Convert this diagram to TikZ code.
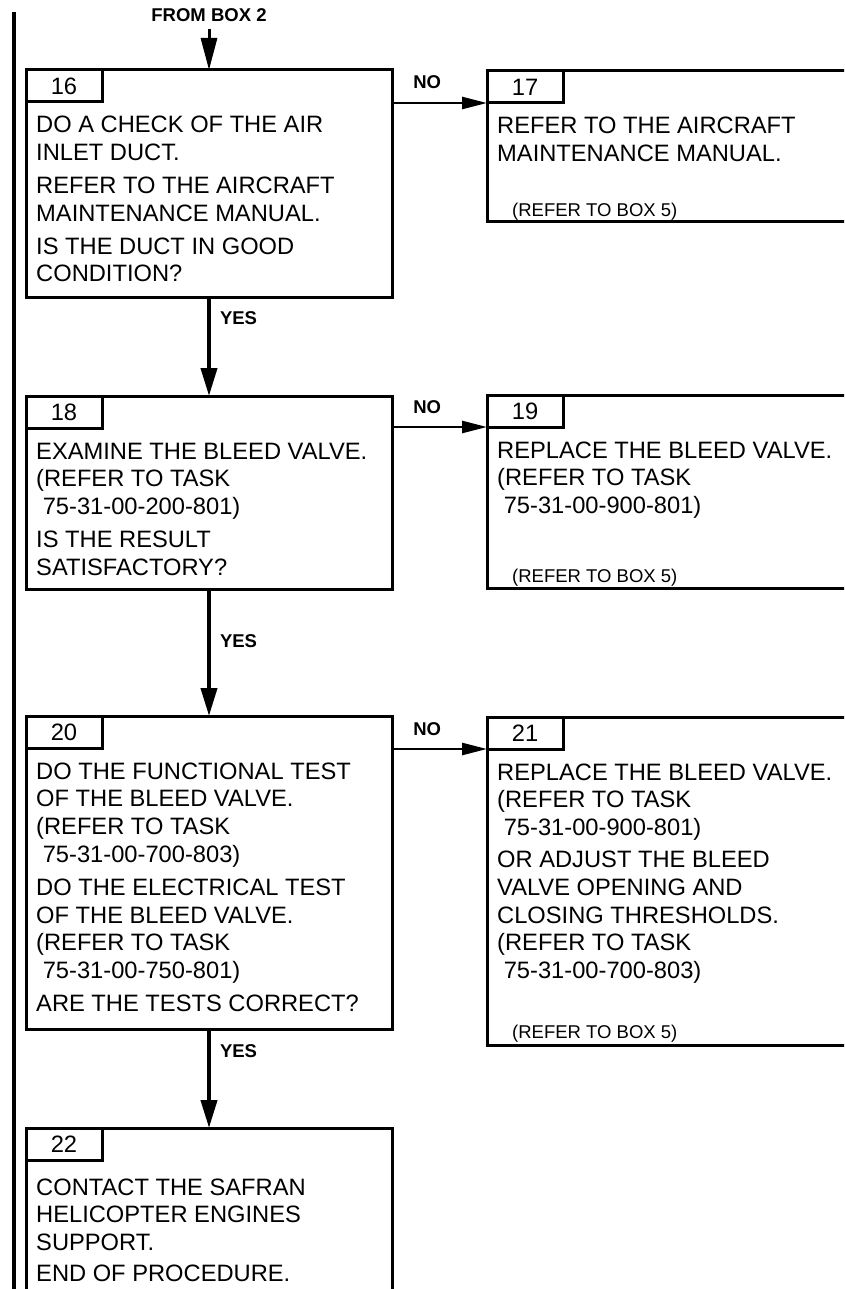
\documentclass[tikz,border=0pt]{standalone}
\usepackage{fontspec}
\setmainfont{Liberation Sans}
\usetikzlibrary{arrows.meta,positioning}
\newcommand\boxfont{\fontsize{23.7}{27.8}\selectfont}
\newcommand\notefont{\fontsize{18.5}{22}\selectfont}
\newcommand\lblfont{\fontsize{18.5}{22}\selectfont\bfseries}
\newcommand\boxtxt[1]{\parbox[t]{360pt}{\raggedright #1}}
\tikzset{
  stepbox/.style={draw, line width=3pt, rectangle, anchor=north west,
    inner sep=0pt, outer sep=0pt, minimum width=366pt},
  sidebox/.style={stepbox, minimum width=420pt},
  numtab/.style={draw, line width=3pt, rectangle, anchor=north west,
    inner sep=0pt, outer sep=0pt, minimum width=76pt, minimum height=32pt,
    font=\boxfont},
  boxtext/.style={anchor=base west, inner sep=0pt, font=\boxfont},
  refnote/.style={anchor=base west, inner sep=0pt, font=\notefont},
  lbl/.style={font=\lblfont, inner sep=0pt},
  yesarr/.style={-{Triangle[length=28pt,width=16pt]}, line width=4pt},
  noarr/.style={-{Triangle[length=25pt,width=12pt]}, line width=2.6pt}
}

\begin{document}
\begin{tikzpicture}[x=1pt,y=-1pt]
  \useasboundingbox (0,0) rectangle (844,1289);
  \clip (0,0) rectangle (844,1289);

  % change bar
  \draw[line width=4.5pt] (14,12) -- (14,1289);

  % left column
  \node[stepbox, minimum height=227pt] (b16) at (26,70) {};
  \node[stepbox, minimum height=193pt] (b18) at (26,396) {};
  \node[stepbox, minimum height=313pt] (b20) at (26,716) {};
  \node[stepbox, minimum height=240pt] (b22) at (26,1128) {};
  % right column
  \node[sidebox, minimum height=151pt] (b17) at (487,71) {};
  \node[sidebox, minimum height=193pt] (b19) at (487,395) {};
  \node[sidebox, minimum height=328pt] (b21) at (487,717) {};

  \foreach \n in {16,17,...,22}
    \node[numtab] (t\n) at (b\n.north west) {\n};

  \node[boxtext] (x16) at ([shift={(10,31)}]t16.south west) {\boxtxt{%
    DO A CHECK OF THE AIR\\ INLET DUCT.\\[5pt]
    REFER TO THE AIRCRAFT\\ MAINTENANCE MANUAL.\\[5pt]
    IS THE DUCT IN GOOD\\ CONDITION?}};
  \node[boxtext] (x17) at ([shift={(10,31)}]t17.south west) {\boxtxt{%
    REFER TO THE AIRCRAFT\\ MAINTENANCE MANUAL.}};
  \node[boxtext] (x18) at ([shift={(10,31)}]t18.south west) {\boxtxt{%
    EXAMINE THE BLEED VALVE.\\ (REFER TO TASK\\ \mbox{}\ 75-31-00-200-801)\\[5pt]
    IS THE RESULT\\ SATISFACTORY?}};
  \node[boxtext] (x19) at ([shift={(10,31)}]t19.south west) {\boxtxt{%
    REPLACE THE BLEED VALVE.\\ (REFER TO TASK\\ \mbox{}\ 75-31-00-900-801)}};
  \node[boxtext] (x20) at ([shift={(10,31)}]t20.south west) {\boxtxt{%
    DO THE FUNCTIONAL TEST\\ OF THE BLEED VALVE.\\ (REFER TO TASK\\
    \mbox{}\ 75-31-00-700-803)\\[5pt]
    DO THE ELECTRICAL TEST\\ OF THE BLEED VALVE.\\ (REFER TO TASK\\
    \mbox{}\ 75-31-00-750-801)\\[5pt]
    ARE THE TESTS CORRECT?}};
  \node[boxtext] (x21) at ([shift={(10,31)}]t21.south west) {\boxtxt{%
    REPLACE THE BLEED VALVE.\\ (REFER TO TASK\\ \mbox{}\ 75-31-00-900-801)\\[4pt]
    OR ADJUST THE BLEED\\ VALVE OPENING AND\\ CLOSING THRESHOLDS.\\
    (REFER TO TASK\\ \mbox{}\ 75-31-00-700-803)}};
  \node[boxtext] (x22) at ([shift={(10,35)}]t22.south west) {\boxtxt{%
    CONTACT THE SAFRAN\\ HELICOPTER ENGINES\\ SUPPORT.\\[3pt]
    END OF PROCEDURE.}};

  \foreach \n/\dy in {17/5,19/6,21/7}
    \node[refnote] (r\n) at ([shift={(25,-\dy)}]b\n.south west) {(REFER TO BOX 5)};

  % connectors
  \node[lbl, anchor=base] (from2) at (209,21.5) {FROM BOX 2};
  \coordinate (from2end) at ([yshift=-7pt]from2.south);
  \draw[yesarr, -{Triangle[length=32pt,width=16pt]}, line width=3pt] (from2end) -- (b16.north);

  \draw[yesarr] (b16.south) -- node[lbl, pos=0.28, anchor=base west, xshift=9pt] (yes16) {YES} (b18.north);
  \draw[yesarr] (b18.south) -- node[lbl, pos=0.46, anchor=base west, xshift=9pt] (yes18) {YES} (b20.north);
  \draw[yesarr] (b20.south) -- node[lbl, pos=0.29, anchor=base west, xshift=9pt] (yes20) {YES} (b22.north);

  \foreach \a/\b in {16/17,18/19,20/21}
    \draw[noarr] (t\b.south west -| b\a.east) -- node[lbl, pos=0.37, anchor=base, yshift=14pt] (no\b) {NO} (t\b.south west);
\end{tikzpicture}
\end{document}
